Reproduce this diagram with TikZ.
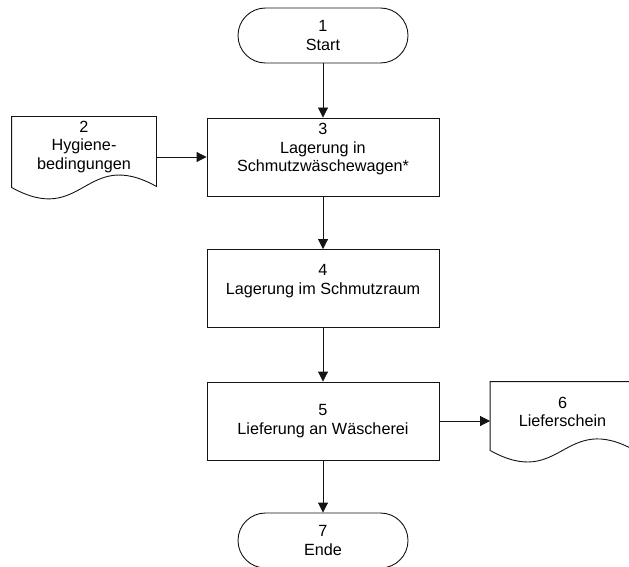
\documentclass[tikz,border=0pt]{standalone}
\usepackage{fontspec}
\setmainfont{Liberation Sans}
\usepackage{tikz}
\usetikzlibrary{positioning,shapes,arrows.meta,calc}
\definecolor{linegray}{RGB}{20,20,20}

\begin{document}
\begin{tikzpicture}[x=1pt, y=-1pt, >={Triangle[length=10pt, width=10pt]}, line width=0.9pt, draw=linegray,
    every node/.style={font=\fontsize{16.2pt}{18.5pt}\selectfont, align=center}]
    \tikzstyle{terminal} = [rectangle, rounded corners=27.5pt, minimum width=170pt, minimum height=55pt, draw=linegray]
    \tikzstyle{process} = [rectangle, minimum width=232pt, minimum height=78pt, draw=linegray]
    \tikzstyle{doc} = [rectangle, minimum width=144pt, minimum height=60pt, inner sep=0pt]
    \useasboundingbox (0,0) rectangle (629,567);

    % Start and end
    \node [terminal] (start) at (323,35.5) {1\\Start};
    \node [terminal] (ende) at (323,540.5) {7\\Ende};

    % Process steps
    \node [process] (wagen) at (323,157) {3\\Lagerung in\\Schmutzw\"aschewagen*\\\mbox{}};
    \node [process] (raum) at (323,288.5) {4\\Lagerung im Schmutzraum\\\mbox{}};
    \node [process] (lieferung) at (323,421) {5\\Lieferung an W\"ascherei};

    % Documents
    \node [doc] (hygiene) at (84,147) {2\\Hygiene-\\bedingungen};
    \node [doc] (schein) at (562.5,412) {6\\Lieferschein};
    \draw (hygiene.north west) -- (hygiene.north east) -- ([yshift=-9pt]hygiene.south east)
        .. controls +(-72,-40) and +(72,40) .. ([yshift=-10pt]hygiene.south west) -- cycle;
    \draw (schein.north west) -- (schein.north east) -- ([yshift=-8pt]schein.south east)
        .. controls +(-72,-40) and +(72,40) .. ([yshift=-8pt]schein.south west) -- cycle;

    % Arrows
    \draw [->] (start) -- (wagen);
    \draw [->] (hygiene.east |- wagen) -- (wagen);
    \draw [->] (wagen) -- (raum);
    \draw [->] (raum) -- (lieferung);
    \draw [->] (lieferung) -- (schein.west |- lieferung);
    \draw [->] (lieferung) -- (ende);
\end{tikzpicture}
\end{document}
